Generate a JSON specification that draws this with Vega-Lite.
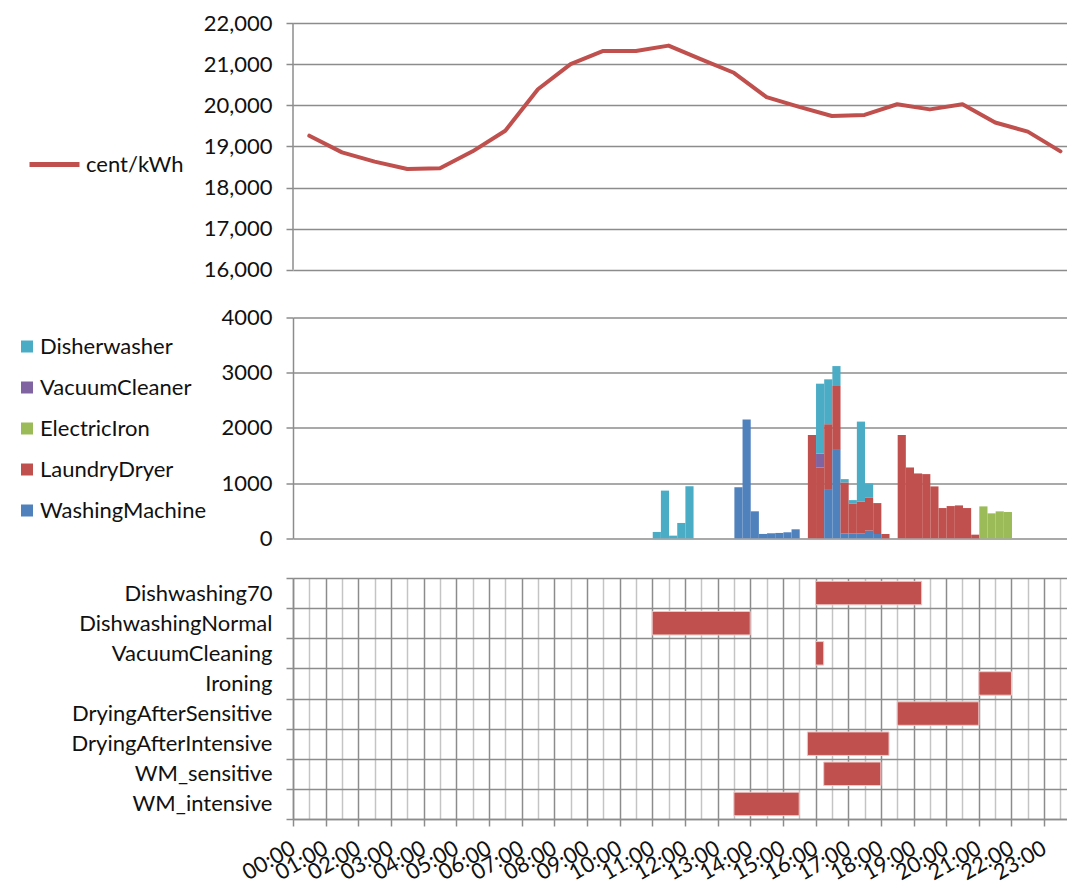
{
  "$schema": "https://vega.github.io/schema/vega-lite/v6.json",
  "padding": {"left": 16, "top": 12, "right": 0, "bottom": 0},
  "background": "white",
  "spacing": 39.5,
  "bounds": "flush",
  "resolve": {"scale": {"color": "independent", "x": "independent", "y": "independent"}, "legend": {"color": "independent"}},
  "config": {
    "font": "Lato",
    "view": {"stroke": null},
    "axis": {
      "labelFont": "Lato", "labelFontSize": 22, "labelColor": "#111111",
      "domainColor": "#8c8c8c", "domainWidth": 1.5,
      "tickColor": "#8c8c8c", "tickWidth": 1.5, "tickSize": 7,
      "gridColor": "#8c8c8c", "gridWidth": 1.5, "gridOpacity": 1,
      "title": null, "labelPadding": 14, "labelFlush": false, "labelOverlap": false, "labelBound": false, "labelLimit": 0
    },
    "legend": {"labelFont": "Lato", "labelFontSize": 22, "labelColor": "#111111", "title": null, "labelLimit": 0}
  },
  "datasets": {
    "price": [
      {"hour": 0.5, "price": 19260, "series": "cent/kWh"},
      {"hour": 1.5, "price": 18855, "series": "cent/kWh"},
      {"hour": 2.5, "price": 18630, "series": "cent/kWh"},
      {"hour": 3.5, "price": 18450, "series": "cent/kWh"},
      {"hour": 4.5, "price": 18470, "series": "cent/kWh"},
      {"hour": 5.5, "price": 18880, "series": "cent/kWh"},
      {"hour": 6.5, "price": 19380, "series": "cent/kWh"},
      {"hour": 7.5, "price": 20390, "series": "cent/kWh"},
      {"hour": 8.5, "price": 21000, "series": "cent/kWh"},
      {"hour": 9.5, "price": 21320, "series": "cent/kWh"},
      {"hour": 10.5, "price": 21320, "series": "cent/kWh"},
      {"hour": 11.5, "price": 21450, "series": "cent/kWh"},
      {"hour": 12.5, "price": 21115, "series": "cent/kWh"},
      {"hour": 13.5, "price": 20790, "series": "cent/kWh"},
      {"hour": 14.5, "price": 20200, "series": "cent/kWh"},
      {"hour": 15.5, "price": 19960, "series": "cent/kWh"},
      {"hour": 16.5, "price": 19740, "series": "cent/kWh"},
      {"hour": 17.5, "price": 19765, "series": "cent/kWh"},
      {"hour": 18.5, "price": 20025, "series": "cent/kWh"},
      {"hour": 19.5, "price": 19900, "series": "cent/kWh"},
      {"hour": 20.5, "price": 20025, "series": "cent/kWh"},
      {"hour": 21.5, "price": 19580, "series": "cent/kWh"},
      {"hour": 22.5, "price": 19360, "series": "cent/kWh"},
      {"hour": 23.5, "price": 18880, "series": "cent/kWh"}
    ],
    "energy": [
      {"start": 11.0, "end": 11.25, "device": "Disherwasher", "watts": 115},
      {"start": 11.25, "end": 11.5, "device": "Disherwasher", "watts": 864},
      {"start": 11.5, "end": 11.75, "device": "Disherwasher", "watts": 48},
      {"start": 11.75, "end": 12.0, "device": "Disherwasher", "watts": 278},
      {"start": 12.0, "end": 12.25, "device": "Disherwasher", "watts": 943},
      {"start": 13.5, "end": 13.75, "device": "WashingMachine", "watts": 925},
      {"start": 13.75, "end": 14.0, "device": "WashingMachine", "watts": 2151},
      {"start": 14.0, "end": 14.25, "device": "WashingMachine", "watts": 489},
      {"start": 14.25, "end": 14.5, "device": "WashingMachine", "watts": 79},
      {"start": 14.5, "end": 14.75, "device": "WashingMachine", "watts": 91},
      {"start": 14.75, "end": 15.0, "device": "WashingMachine", "watts": 97},
      {"start": 15.0, "end": 15.25, "device": "WashingMachine", "watts": 109},
      {"start": 15.25, "end": 15.5, "device": "WashingMachine", "watts": 163},
      {"start": 15.75, "end": 16.0, "device": "LaundryDryer", "watts": 1873},
      {"start": 16.0, "end": 16.25, "device": "LaundryDryer", "watts": 1283},
      {"start": 16.0, "end": 16.25, "device": "VacuumCleaner", "watts": 253},
      {"start": 16.0, "end": 16.25, "device": "Disherwasher", "watts": 1265},
      {"start": 16.25, "end": 16.5, "device": "WashingMachine", "watts": 892},
      {"start": 16.25, "end": 16.5, "device": "LaundryDryer", "watts": 1175},
      {"start": 16.25, "end": 16.5, "device": "Disherwasher", "watts": 813},
      {"start": 16.5, "end": 16.75, "device": "WashingMachine", "watts": 1602},
      {"start": 16.5, "end": 16.75, "device": "LaundryDryer", "watts": 1157},
      {"start": 16.5, "end": 16.75, "device": "Disherwasher", "watts": 361},
      {"start": 16.75, "end": 17.0, "device": "WashingMachine", "watts": 90},
      {"start": 16.75, "end": 17.0, "device": "LaundryDryer", "watts": 922},
      {"start": 16.75, "end": 17.0, "device": "Disherwasher", "watts": 60},
      {"start": 17.0, "end": 17.25, "device": "WashingMachine", "watts": 90},
      {"start": 17.0, "end": 17.25, "device": "LaundryDryer", "watts": 542},
      {"start": 17.0, "end": 17.25, "device": "Disherwasher", "watts": 60},
      {"start": 17.25, "end": 17.5, "device": "WashingMachine", "watts": 90},
      {"start": 17.25, "end": 17.5, "device": "LaundryDryer", "watts": 572},
      {"start": 17.25, "end": 17.5, "device": "Disherwasher", "watts": 1452},
      {"start": 17.5, "end": 17.75, "device": "WashingMachine", "watts": 139},
      {"start": 17.5, "end": 17.75, "device": "LaundryDryer", "watts": 602},
      {"start": 17.5, "end": 17.75, "device": "Disherwasher", "watts": 253},
      {"start": 17.75, "end": 18.0, "device": "WashingMachine", "watts": 78},
      {"start": 17.75, "end": 18.0, "device": "LaundryDryer", "watts": 560},
      {"start": 18.0, "end": 18.25, "device": "LaundryDryer", "watts": 78},
      {"start": 18.5, "end": 18.75, "device": "LaundryDryer", "watts": 1873},
      {"start": 18.75, "end": 19.0, "device": "LaundryDryer", "watts": 1283},
      {"start": 19.0, "end": 19.25, "device": "LaundryDryer", "watts": 1175},
      {"start": 19.25, "end": 19.5, "device": "LaundryDryer", "watts": 1163},
      {"start": 19.5, "end": 19.75, "device": "LaundryDryer", "watts": 940},
      {"start": 19.75, "end": 20.0, "device": "LaundryDryer", "watts": 548},
      {"start": 20.0, "end": 20.25, "device": "LaundryDryer", "watts": 584},
      {"start": 20.25, "end": 20.5, "device": "LaundryDryer", "watts": 596},
      {"start": 20.5, "end": 20.75, "device": "LaundryDryer", "watts": 548},
      {"start": 20.75, "end": 21.0, "device": "LaundryDryer", "watts": 66},
      {"start": 21.0, "end": 21.25, "device": "ElectricIron", "watts": 578},
      {"start": 21.25, "end": 21.5, "device": "ElectricIron", "watts": 452},
      {"start": 21.5, "end": 21.75, "device": "ElectricIron", "watts": 488},
      {"start": 21.75, "end": 22.0, "device": "ElectricIron", "watts": 476}
    ],
    "tasks": [
      {"task": "Dishwashing70", "start": 16.0, "end": 19.25},
      {"task": "DishwashingNormal", "start": 11.0, "end": 14.0},
      {"task": "VacuumCleaning", "start": 16.0, "end": 16.25},
      {"task": "Ironing", "start": 21.0, "end": 22.0},
      {"task": "DryingAfterSensitive", "start": 18.5, "end": 21.0},
      {"task": "DryingAfterIntensive", "start": 15.75, "end": 18.25},
      {"task": "WM_sensitive", "start": 16.25, "end": 18.0},
      {"task": "WM_intensive", "start": 13.5, "end": 15.5}
    ]
  },
  "vconcat": [
    {
      "width": 774,
      "height": 254.5,
      "layer": [
        {
          "data": {"values": [{"lo": 16000, "hi": 22000, "x0": 0}]},
          "mark": {"type": "rule", "color": "#8c8c8c", "strokeWidth": 1.5},
          "encoding": {
            "x": {"field": "x0", "type": "quantitative"},
            "y": {"field": "lo", "type": "quantitative"},
            "y2": {"field": "hi"}
          }
        },
        {
          "data": {"name": "price"},
          "mark": {"type": "line", "strokeWidth": 4, "strokeJoin": "round", "strokeCap": "round"},
          "encoding": {
            "x": {"field": "hour", "type": "quantitative"},
            "y": {"field": "price", "type": "quantitative"},
            "color": {
              "field": "series", "type": "nominal",
              "scale": {"domain": ["cent/kWh"], "range": ["#C0504D"]},
              "legend": {"orient": "none", "legendX": -266, "legendY": 114, "symbolType": "stroke", "symbolStrokeWidth": 5, "symbolSize": 2500, "labelOffset": 4}
            }
          }
        }
      ],
      "encoding": {
        "x": {"field": "hour", "type": "quantitative", "scale": {"domain": [0, 23.7], "nice": false, "zero": false}, "axis": null},
        "y": {
          "field": "price", "type": "quantitative",
          "scale": {"domain": [15813, 22000], "nice": false, "zero": false},
          "axis": {"values": [16000, 17000, 18000, 19000, 20000, 21000, 22000], "format": ",d", "grid": true, "domain": false}
        }
      }
    },
    {
      "width": 774,
      "height": 220.8,
      "data": {"name": "energy"},
      "transform": [
        {"calculate": "indexof(['WashingMachine','LaundryDryer','ElectricIron','VacuumCleaner','Disherwasher'], datum.device)", "as": "stackOrder"}
      ],
      "mark": {"type": "bar", "binSpacing": 0},
      "encoding": {
        "x": {"field": "start", "type": "quantitative", "bin": {"binned": true, "step": 0.25}, "scale": {"domain": [0, 23.7], "nice": false, "zero": false}, "axis": null},
        "x2": {"field": "end"},
        "y": {
          "field": "watts", "type": "quantitative", "stack": "zero",
          "scale": {"domain": [0, 4000], "nice": false},
          "axis": {"values": [0, 1000, 2000, 3000, 4000], "format": "d", "grid": true}
        },
        "color": {
          "field": "device", "type": "nominal",
          "scale": {
            "domain": ["Disherwasher", "VacuumCleaner", "ElectricIron", "LaundryDryer", "WashingMachine"],
            "range": ["#4BACC6", "#8064A2", "#9BBB59", "#C0504D", "#4F81BD"]
          },
          "legend": {"orient": "none", "legendX": -277, "legendY": 18, "symbolType": "square", "symbolSize": 144, "symbolStrokeWidth": 0, "rowPadding": 19, "labelOffset": 2}
        },
        "order": {"field": "stackOrder", "type": "quantitative"}
      }
    },
    {
      "width": 774,
      "height": 241,
      "data": {"name": "tasks"},
      "mark": {"type": "bar", "color": "#C0504D", "height": {"band": 0.78}, "stroke": "#f0c8c8", "strokeWidth": 1},
      "encoding": {
        "y": {
          "field": "task", "type": "nominal",
          "sort": ["Dishwashing70", "DishwashingNormal", "VacuumCleaning", "Ironing", "DryingAfterSensitive", "DryingAfterIntensive", "WM_sensitive", "WM_intensive"],
          "scale": {"paddingInner": 0, "paddingOuter": 0},
          "axis": {"tickBand": "extent", "grid": true, "domain": true, "ticks": true}
        },
        "x": {
          "field": "start", "type": "quantitative",
          "scale": {"domain": [0, 23.7], "nice": false, "zero": false},
          "axis": {
            "values": [0, 0.5, 1, 1.5, 2, 2.5, 3, 3.5, 4, 4.5, 5, 5.5, 6, 6.5, 7, 7.5, 8, 8.5, 9, 9.5, 10, 10.5, 11, 11.5, 12, 12.5, 13, 13.5, 14, 14.5, 15, 15.5, 16, 16.5, 17, 17.5, 18, 18.5, 19, 19.5, 20, 20.5, 21, 21.5, 22, 22.5, 23, 23.5],
            "labelExpr": "datum.value % 1 === 0 ? ((datum.value < 10 ? '0' : '') + datum.value + ':00') : ''",
            "labelAngle": -30, "labelAlign": "right", "labelBaseline": "middle", "labelPadding": 20,
            "grid": true,
            "gridColor": {"condition": {"test": "datum.value % 1 !== 0", "value": "#c4c4c4"}, "value": "#8c8c8c"},
            "tickOpacity": {"condition": {"test": "datum.value % 1 !== 0", "value": 0}, "value": 1}
          }
        },
        "x2": {"field": "end"}
      }
    }
  ]
}
